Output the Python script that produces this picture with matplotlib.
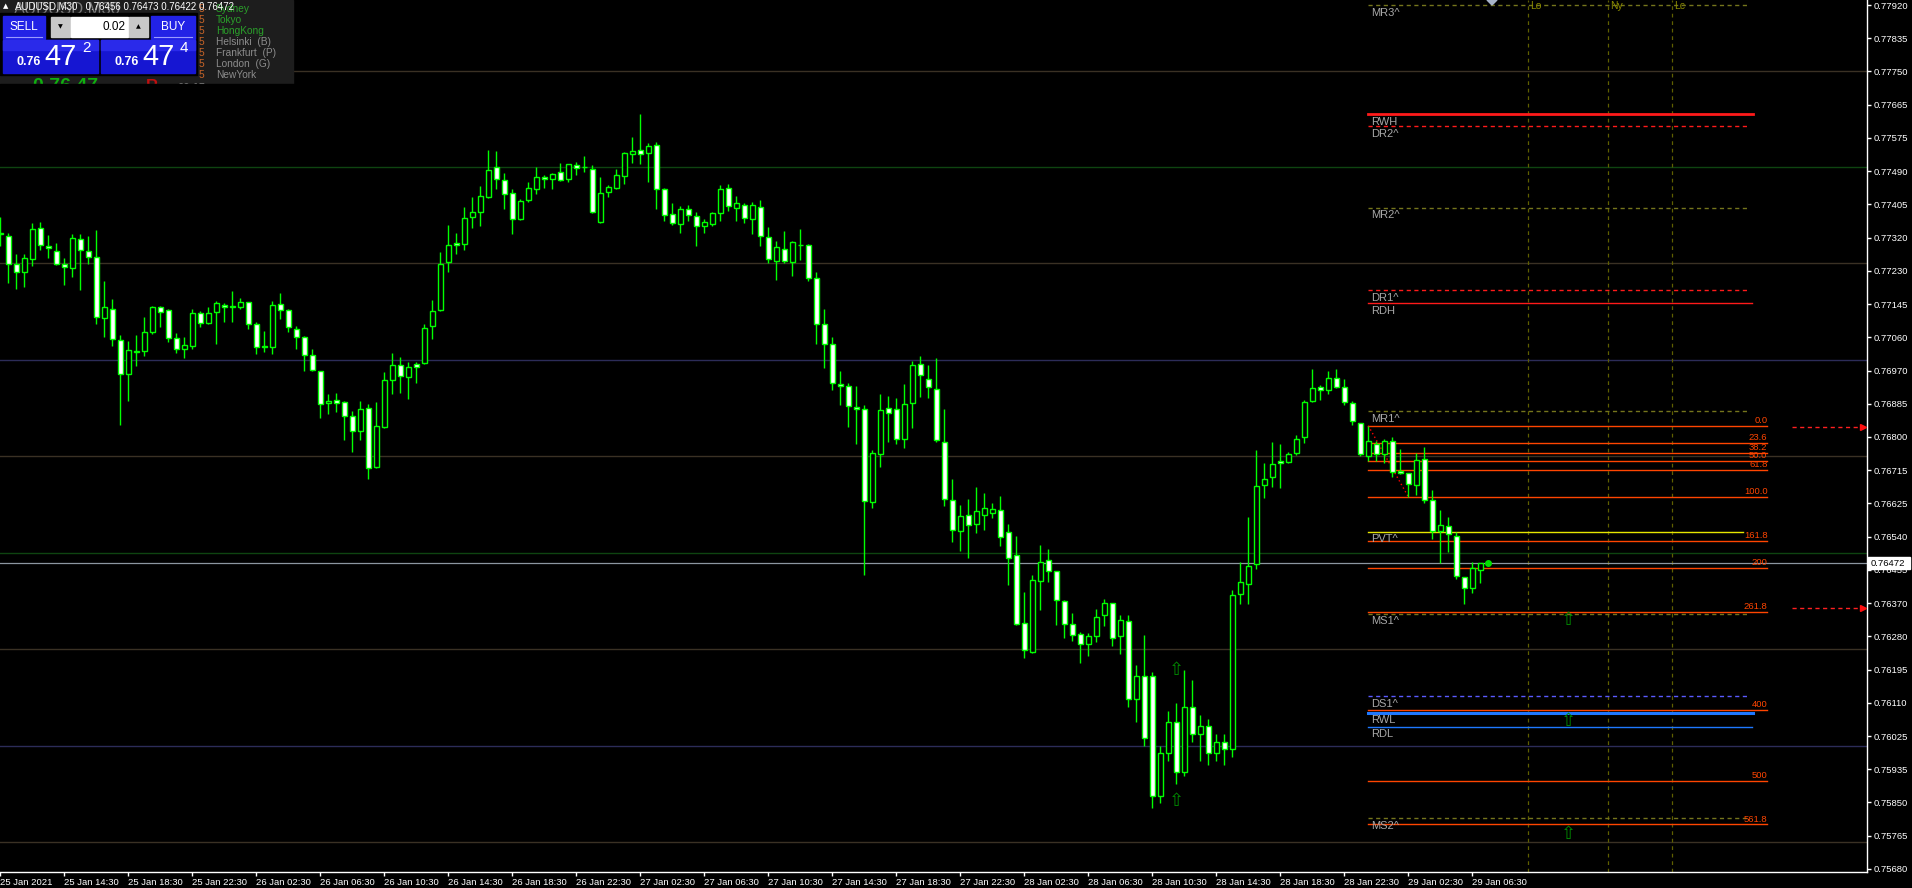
import matplotlib
matplotlib.use("Agg")
import matplotlib.pyplot as plt
from matplotlib.patches import Rectangle, Polygon
import numpy as np

plt.rcParams['font.family'] = ['Liberation Sans', 'DejaVu Sans']

##########################################
# AUDUSD M30 candles, in points (0.00001)
##########################################
o_pts = [77326, 77322, 77248, 77227, 77261, 77341, 77295, 77283, 77248, 77238,
         77313, 77281, 77266, 77108, 77133, 77051, 76963, 77020, 77022, 77072,
         77136, 77129, 77056, 77028, 77035, 77121, 77095, 77123, 77142, 77136,
         77136, 77149, 77092, 77033, 77033, 77144, 77129, 77079, 77059, 77012,
         76970, 76887, 76895, 76890, 76854, 76815, 76875, 76722, 76825, 76947,
         76986, 76955, 76989, 76991, 77087, 77129, 77253, 77302, 77300, 77370,
         77383, 77422, 77501, 77465, 77432, 77365, 77414, 77443, 77473, 77469,
         77486, 77468, 77506, 77499, 77496, 77357, 77435, 77445, 77476, 77533,
         77543, 77536, 77557, 77443, 77377, 77352, 77390, 77373, 77346, 77352,
         77382, 77445, 77393, 77401, 77365, 77396, 77318, 77256, 77287, 77254,
         77298, 77298, 77212, 77093, 77041, 76937, 76932, 76877, 76872, 76631,
         76755, 76875, 76872, 76794, 76888, 76989, 76950, 76924, 76786, 76636,
         76556, 76598, 76574, 76598, 76603, 76610, 76553, 76493, 76317, 76242,
         76426, 76480, 76452, 76374, 76314, 76288, 76262, 76283, 76338, 76369,
         76283, 76322, 76120, 76180, 76181, 75870, 75980, 76060, 75930, 76100,
         76030, 76050, 75980, 76010, 75990, 76392, 76418, 76470, 76675, 76695,
         76737, 76734, 76758, 76799, 76892, 76929, 76921, 76952, 76929, 76887,
         76835, 76750, 76781, 76755, 76789, 76711, 76706, 76675, 76742, 76636,
         76555, 76568, 76542, 76436, 76408, 76456]
h_pts = [77370, 77328, 77275, 77275, 77354, 77358, 77323, 77302, 77263, 77327,
         77327, 77321, 77337, 77205, 77158, 77065, 77049, 77065, 77111, 77140,
         77140, 77131, 77070, 77059, 77132, 77126, 77137, 77153, 77148, 77179,
         77161, 77150, 77098, 77075, 77153, 77174, 77131, 77088, 77061, 77028,
         76972, 76912, 76914, 76892, 76867, 76894, 76885, 76891, 76968, 77017,
         77007, 76994, 76994, 77092, 77155, 77279, 77349, 77328, 77396, 77422,
         77450, 77543, 77541, 77484, 77443, 77416, 77461, 77500, 77480, 77485,
         77511, 77508, 77513, 77528, 77504, 77474, 77454, 77495, 77538, 77578,
         77638, 77562, 77566, 77445, 77407, 77398, 77401, 77383, 77364, 77383,
         77454, 77457, 77425, 77406, 77409, 77415, 77344, 77307, 77335, 77309,
         77338, 77301, 77228, 77133, 77060, 76972, 76941, 76933, 76884, 76767,
         76911, 76906, 76900, 76938, 76996, 77011, 76987, 77005, 76873, 76692,
         76624, 76640, 76671, 76656, 76629, 76646, 76574, 76542, 76397, 76441,
         76519, 76509, 76453, 76376, 76343, 76293, 76291, 76353, 76379, 76370,
         76338, 76338, 76210, 76287, 76190, 76000, 76090, 76110, 76196, 76170,
         76080, 76070, 76030, 76030, 76403, 76477, 76592, 76766, 76732, 76786,
         76781, 76760, 76804, 76895, 76975, 76936, 76970, 76975, 76949, 76892,
         76836, 76828, 76789, 76796, 76799, 76768, 76706, 76758, 76773, 76662,
         76610, 76592, 76553, 76437, 76475, 76473]
l_pts = [77294, 77199, 77184, 77190, 77244, 77285, 77263, 77245, 77195, 77216,
         77180, 77249, 77094, 77060, 77037, 76832, 76894, 76985, 77011, 77066,
         77084, 77046, 77019, 77006, 77027, 77084, 77092, 77040, 77099, 77097,
         77131, 77081, 77014, 77021, 77016, 77107, 77073, 77027, 76972, 76971,
         76850, 76859, 76864, 76791, 76762, 76793, 76692, 76720, 76824, 76911,
         76915, 76898, 76939, 76989, 77055, 77126, 77227, 77274, 77284, 77341,
         77346, 77420, 77444, 77390, 77325, 77362, 77408, 77430, 77445, 77442,
         77464, 77462, 77478, 77486, 77382, 77356, 77423, 77444, 77457, 77511,
         77509, 77462, 77392, 77359, 77350, 77328, 77359, 77294, 77328, 77346,
         77359, 77387, 77359, 77356, 77325, 77296, 77250, 77207, 77250, 77218,
         77260, 77204, 77040, 76978, 76923, 76882, 76827, 76781, 76441, 76615,
         76721, 76786, 76783, 76771, 76824, 76904, 76902, 76786, 76620, 76528,
         76504, 76485, 76550, 76560, 76591, 76516, 76417, 76313, 76228, 76239,
         76351, 76423, 76312, 76278, 76270, 76213, 76231, 76268, 76309, 76257,
         76236, 76100, 76060, 76000, 75838, 75850, 75960, 75900, 75920, 76010,
         75960, 75950, 75960, 75950, 75970, 76366, 76366, 76457, 76641, 76669,
         76667, 76732, 76752, 76784, 76890, 76895, 76911, 76928, 76882, 76830,
         76750, 76737, 76737, 76732, 76695, 76705, 76644, 76649, 76630, 76535,
         76472, 76501, 76433, 76366, 76395, 76422]
c_pts = [77328, 77248, 77227, 77263, 77339, 77297, 77289, 77248, 77241, 77315,
         77284, 77266, 77110, 77136, 77053, 76963, 77025, 77022, 77072, 77136,
         77123, 77056, 77028, 77038, 77121, 77095, 77121, 77147, 77136, 77139,
         77149, 77092, 77033, 77035, 77142, 77129, 77085, 77059, 77012, 76973,
         76885, 76893, 76887, 76854, 76815, 76872, 76719, 76828, 76947, 76986,
         76958, 76981, 76981, 77082, 77126, 77248, 77297, 77297, 77367, 77383,
         77424, 77492, 77468, 77430, 77365, 77412, 77445, 77473, 77470, 77481,
         77466, 77507, 77497, 77499, 77383, 77432, 77449, 77479, 77536, 77541,
         77534, 77554, 77443, 77376, 77355, 77390, 77376, 77346, 77357, 77380,
         77443, 77398, 77406, 77367, 77401, 77321, 77261, 77292, 77256, 77305,
         77298, 77212, 77093, 77041, 76940, 76932, 76879, 76872, 76634, 76758,
         76869, 76862, 76796, 76885, 76986, 76961, 76929, 76792, 76639, 76558,
         76595, 76572, 76608, 76616, 76613, 76540, 76485, 76314, 76247, 76428,
         76475, 76452, 76376, 76314, 76286, 76262, 76283, 76332, 76369, 76278,
         76325, 76120, 76180, 76020, 75870, 75980, 76060, 75930, 76100, 76030,
         76050, 75980, 76010, 75990, 76389, 76423, 76465, 76672, 76690, 76729,
         76732, 76755, 76796, 76890, 76926, 76921, 76952, 76929, 76890, 76841,
         76755, 76789, 76755, 76789, 76708, 76706, 76677, 76739, 76636, 76555,
         76571, 76548, 76439, 76408, 76459, 76472]

opens = np.array(o_pts) / 1e5
highs = np.array(h_pts) / 1e5
lows = np.array(l_pts) / 1e5
closes = np.array(c_pts) / 1e5
bars = np.arange(len(opens))

bid = 0.76472

# axes labels
ytick_labels = ['0.75680', '0.75765', '0.75850', '0.75935', '0.76025', '0.76110',
                '0.76195', '0.76280', '0.76370', '0.76455', '0.76540', '0.76625',
                '0.76715', '0.76800', '0.76885', '0.76970', '0.77060', '0.77145',
                '0.77230', '0.77320', '0.77405', '0.77490', '0.77575', '0.77665',
                '0.77750', '0.77835', '0.77920']
xtick_bars = [0, 8, 16, 24, 32, 40, 48, 56, 64, 72, 80, 88, 96, 104, 112, 120,
              128, 136, 144, 152, 160, 168, 176, 184]
xtick_labels = ['25 Jan 2021', '25 Jan 14:30', '25 Jan 18:30', '25 Jan 22:30',
                '26 Jan 02:30', '26 Jan 06:30', '26 Jan 10:30', '26 Jan 14:30',
                '26 Jan 18:30', '26 Jan 22:30', '27 Jan 02:30', '27 Jan 06:30',
                '27 Jan 10:30', '27 Jan 14:30', '27 Jan 18:30', '27 Jan 22:30',
                '28 Jan 02:30', '28 Jan 06:30', '28 Jan 10:30', '28 Jan 14:30',
                '28 Jan 18:30', '28 Jan 22:30', '29 Jan 02:30', '29 Jan 06:30']

# round-number lines
round_levels = [0.7575, 0.7600, 0.7625, 0.7650, 0.7675, 0.7700, 0.7725, 0.7750, 0.7775]
round_colors = ['#3a3124', '#2c2c58', '#3a3124', '#0e4410', '#3a3124',
                '#2c2c58', '#3a3124', '#0e4410', '#3a3124']

# pivot / range levels
level_names = ['MR3^', 'RWH', 'DR2^', 'MR2^', 'DR1^', 'RDH', 'MR1^', 'PVT^',
               'MS1^', 'DS1^', 'RWL', 'RDL', 'MS2^']
level_prices = [0.77920, 0.77637, 0.77606, 0.77394, 0.77181, 0.77147, 0.76867,
                0.76554, 0.76341, 0.76128, 0.76085, 0.76048, 0.75812]
level_colors = ['#75751c', '#ff1a1a', '#ff1a1a', '#75751c', '#ff1a1a', '#ff1a1a',
                '#75751c', '#e6e600', '#75751c', '#5a5aff', '#1e78ff', '#1e78ff', '#75751c']
level_styles = ['--', '-', '--', '--', '--', '-', '--', '-', '--', '--', '-', '-', '--']
level_widths = [1, 2, 1, 1, 1, 1, 1, 1, 1, 1, 2.2, 1, 1]
level_end = [218.6, 219.1, 218.6, 218.6, 218.6, 219.0, 218.6, 217.9, 218.6,
             218.6, 219.1, 219.0, 218.6]
level_start = 171

# fibonacci tool
fib_high = 0.76829
fib_low = 0.76645
fib_bars = [171, 176]
fib_ratios = [0.0, 23.6, 38.2, 50.0, 61.8, 100.0, 161.8, 200, 261.8, 400, 500, 561.8]
fib_labels = ['0.0', '23.6', '38.2', '50.0', '61.8', '100.0', '161.8', '200',
              '261.8', '400', '500', '561.8']
fib_end = 220.9

# session markers
session_bars = [191, 201, 209]
session_names = ['Lo', 'Ny', 'Lc']

# alert lines on the right
alert_prices = [0.76826, 0.76357]

# signal arrows
arrow_bars = [196, 196, 196, 147, 147]
arrow_prices = [0.76326, 0.76064, 0.75771, 0.76196, 0.75856]

#########
# figure
#########
fig = plt.figure(figsize=(19.12, 8.88), dpi=100, facecolor='black')
ax = fig.add_axes([0, 16 / 888, 1867 / 1912, 872 / 888])
ax.set_facecolor('black')
ax.set_xlim(-0.04, 233.34)
ax.set_ylim(0.75672, 0.77933)

for lv, col in zip(round_levels, round_colors):
    ax.axhline(lv, color=col, lw=1, zorder=1)

ax.axhline(bid, color='#8c96a0', lw=0.9, zorder=1.5)

# session lines
for b, name in zip(session_bars, session_names):
    ax.axvline(b, color='#5f5f00', lw=0.9, ls=(0, (3, 3)), zorder=1.2)
    ax.annotate(name, (b, 0.77933), xytext=(1, -1), textcoords='offset points',
                color='#8a8a00', fontsize=7.5, ha='left', va='top')

# levels
for name, p, col, ls, lw, xe in zip(level_names, level_prices, level_colors,
                                     level_styles, level_widths, level_end):
    if ls == '--':
        ax.plot([level_start, xe], [p, p], color=col, lw=lw, ls=(0, (3, 2.5)), zorder=2)
    else:
        ax.plot([level_start, xe], [p, p], color=col, lw=lw, ls='-', zorder=2)
    ax.annotate(name, (level_start + 0.35, p), xytext=(0, -1.8), textcoords='offset points',
                color='#a8a8a8', fontsize=8, ha='left', va='top', zorder=6)

# fibonacci levels
for r, lab in zip(fib_ratios, fib_labels):
    p = fib_high - r / 100 * (fib_high - fib_low)
    ax.plot([level_start, fib_end], [p, p], color='#ff4500', lw=1, zorder=2.5)
    ax.annotate(lab, (fib_end, p), xytext=(0, 0.6), textcoords='offset points',
                color='#ff4500', fontsize=6.8, ha='right', va='bottom', zorder=6)
ax.plot(fib_bars, [fib_high, fib_low], color='red', lw=1, ls=(0, (1, 2)), zorder=2.6)

# alerts
for p in alert_prices:
    ax.plot([224, 232.5], [p, p], color='#ff2020', lw=1, ls=(0, (3, 2.5)), zorder=2)
    ax.plot(232.8, p, marker='>', color='#ff1010', ms=4, zorder=3, clip_on=False)

# arrows
for b, p in zip(arrow_bars, arrow_prices):
    ax.text(b, p, '\u21e7', color='#008c00', fontsize=13, ha='center', va='center',
            family=['DejaVu Sans'], zorder=3)

# candles
up = closes >= opens
ax.vlines(bars, lows, highs, color='#00ff00', lw=1, zorder=4)
ax.bar(bars, np.abs(closes - opens), bottom=np.minimum(opens, closes), width=0.56,
       color=np.where(up, 'black', 'white'), edgecolor='#00ff00', linewidth=1, zorder=5)
ax.plot(186, bid, 'o', color='#00e000', ms=4, zorder=5)

# axes decoration
for s in ['left', 'top']:
    ax.spines[s].set_visible(False)
for s in ['right', 'bottom']:
    ax.spines[s].set_color('white')
    ax.spines[s].set_linewidth(1)

ax.yaxis.tick_right()
ax.set_yticks(np.linspace(0.75680, 0.77920, len(ytick_labels)))
ax.set_yticklabels(ytick_labels)
ax.set_xticks(xtick_bars)
ax.set_xticklabels(xtick_labels)
for lbl in ax.get_xticklabels():
    lbl.set_ha('left')
ax.tick_params(axis='y', colors='white', length=3, width=1, labelsize=6.8, pad=2)
ax.tick_params(axis='x', colors='white', length=3, width=1, labelsize=6.8, pad=1)

##########################
# overlay in pixel coords
##########################
ov = fig.add_axes([0, 0, 1, 1])
ov.set_xlim(0, 1912)
ov.set_ylim(888, 0)
ov.axis('off')

# bid tag on price scale
ov.add_patch(Rectangle((1868, 557), 42, 12, color='white', zorder=3))
ov.text(1871, 563.5, '0.76472', color='black', fontsize=6.8, va='center', ha='left', zorder=4)

# chart-shift triangle
ov.add_patch(Polygon([[1487, 0], [1497, 0], [1492, 5]], color='#a8b4c8'))

# info / trade panel
ov.add_patch(Rectangle((0, 0), 293, 84, color='#1d1d1d', zorder=1))
ov.text(14, 17, 'AUDUSD,M30', color='#7a7a7a', fontsize=12, va='bottom', ha='left', zorder=1.5)
# row partly hidden behind the trade panel, only its top shows
for x0, s, col, fs in [(33, '0.76 47', '#10b010', 14), (146, 'R', '#c01010', 12),
                       (178, '00.15', '#808080', 8)]:
    ov.text(x0, 91, s, color=col, fontsize=fs, fontweight='bold', va='baseline',
            ha='left', zorder=1.6)
ov.add_patch(Rectangle((0, 84), 300, 20, color='black', zorder=1.7))

ov.text(3, 6.5, '\u25b2', color='white', fontsize=5, va='center', ha='left',
        family=['DejaVu Sans'], zorder=2)
ov.text(15, 6.5, 'AUDUSD,M30   0.76456 0.76473 0.76422 0.76472', color='white',
        fontsize=7, va='center', ha='left', zorder=2)

session_list = ['Sydney', 'Tokyo', 'HongKong', 'Helsinki  (B)', 'Frankfurt  (P)',
                'London  (G)', 'NewYork']
session_cols = ['#2aa02a', '#2aa02a', '#2aa02a', '#8c8c8c', '#8c8c8c', '#8c8c8c', '#8c8c8c']
for i, (nm, col) in enumerate(zip(session_list, session_cols)):
    y = 8.5 + i * 11.1
    ov.text(216, y, nm, color=col, fontsize=7.3, va='center', ha='left', zorder=1.5)
    ov.text(199, y, '5', color='#c86428', fontsize=7.3, va='center', ha='left', zorder=1.5)

ov.add_patch(Rectangle((0, 13), 197, 62, color='black', zorder=2))
for x0, w, lab in [(3, 42, 'SELL'), (151, 44, 'BUY')]:
    ov.add_patch(Rectangle((x0, 16), w, 23, color='#2222e6', zorder=3))
    ov.plot([x0 + 3, x0 + w - 3], [37.5, 37.5], color='#9a9aff', lw=0.8, zorder=4)
    ov.text(x0 + w / 2, 26.5, lab, color='white', fontsize=8.5, ha='center', va='center', zorder=4)
ov.add_patch(Rectangle((51, 17), 19, 20, color='#c8c8c8', zorder=3))
ov.add_patch(Rectangle((71, 17), 57, 20, color='white', zorder=3))
ov.add_patch(Rectangle((129, 17), 19, 20, color='#c8c8c8', zorder=3))
ov.text(60.5, 27, '\u25bc', color='black', fontsize=4.5, ha='center', va='center',
        family=['DejaVu Sans'], zorder=4)
ov.text(138.5, 27, '\u25b2', color='black', fontsize=4.5, ha='center', va='center',
        family=['DejaVu Sans'], zorder=4)
ov.text(126, 27, '0.02', color='black', fontsize=8.5, ha='right', va='center', zorder=4)

for x0, w, big, small in [(3, 95, '47', '2'), (101, 94, '47', '4')]:
    ov.add_patch(Rectangle((x0, 40), w, 33, color='#1616d2', zorder=3))
    ov.add_patch(Rectangle((x0, 40), w, 10, color='#2a2aea', zorder=3))
    ov.text(x0 + 14, 62, '0.76', color='white', fontsize=9, fontweight='bold',
            ha='left', va='center', zorder=4)
    ov.text(x0 + 41, 57, big, color='white', fontsize=21, ha='left', va='center', zorder=4)
    ov.text(x0 + 79, 48, small, color='white', fontsize=11, ha='left', va='center', zorder=4)

fig.savefig('out.png', dpi=100, facecolor='black')
